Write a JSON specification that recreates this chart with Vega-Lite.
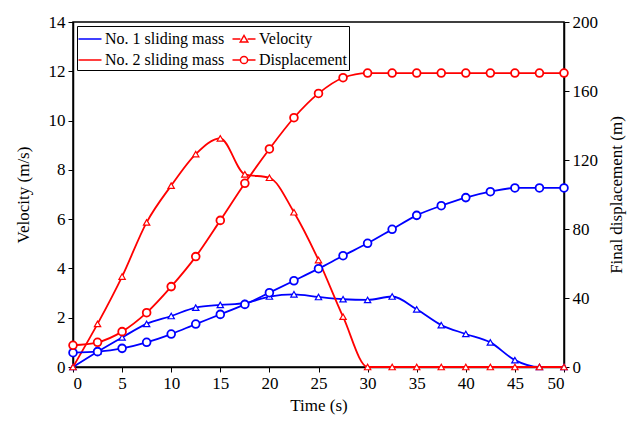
{
  "$schema": "https://vega.github.io/schema/vega-lite/v6.json",
  "width": 491,
  "height": 345,
  "autosize": {"type": "none"},
  "padding": {"left": 73, "top": 22, "right": 74, "bottom": 59},
  "background": "white",
  "config": {
    "font": "Liberation Serif",
    "view": {"stroke": "black", "strokeWidth": 1.5},
    "axis": {
      "grid": false,
      "domainColor": "black",
      "domainWidth": 1.5,
      "tickColor": "black",
      "tickSize": 5,
      "tickWidth": 1,
      "labelFont": "Liberation Serif",
      "labelFontSize": 17,
      "labelColor": "black",
      "titleFont": "Liberation Serif",
      "titleFontSize": 17,
      "titleFontWeight": "normal",
      "titleColor": "black",
      "labelPadding": 3
    }
  },
  "data": {
    "values": [
      {"t": 0, "mass": "No. 1 sliding mass", "velocity": 0, "displacement": 8.3},
      {"t": 2.5, "mass": "No. 1 sliding mass", "velocity": 0.62, "displacement": 8.9},
      {"t": 5, "mass": "No. 1 sliding mass", "velocity": 1.2, "displacement": 10.8},
      {"t": 7.5, "mass": "No. 1 sliding mass", "velocity": 1.75, "displacement": 14.3},
      {"t": 10, "mass": "No. 1 sliding mass", "velocity": 2.07, "displacement": 19.1},
      {"t": 12.5, "mass": "No. 1 sliding mass", "velocity": 2.41, "displacement": 24.9},
      {"t": 15, "mass": "No. 1 sliding mass", "velocity": 2.52, "displacement": 30.5},
      {"t": 17.5, "mass": "No. 1 sliding mass", "velocity": 2.59, "displacement": 36.3},
      {"t": 20, "mass": "No. 1 sliding mass", "velocity": 2.86, "displacement": 43.1},
      {"t": 22.5, "mass": "No. 1 sliding mass", "velocity": 2.95, "displacement": 50},
      {"t": 25, "mass": "No. 1 sliding mass", "velocity": 2.84, "displacement": 57},
      {"t": 27.5, "mass": "No. 1 sliding mass", "velocity": 2.75, "displacement": 64.5},
      {"t": 30, "mass": "No. 1 sliding mass", "velocity": 2.72, "displacement": 71.7},
      {"t": 32.5, "mass": "No. 1 sliding mass", "velocity": 2.86, "displacement": 79.8},
      {"t": 35, "mass": "No. 1 sliding mass", "velocity": 2.34, "displacement": 87.9},
      {"t": 37.5, "mass": "No. 1 sliding mass", "velocity": 1.7, "displacement": 93.5},
      {"t": 40, "mass": "No. 1 sliding mass", "velocity": 1.34, "displacement": 98.2},
      {"t": 42.5, "mass": "No. 1 sliding mass", "velocity": 1.0, "displacement": 101.6},
      {"t": 45, "mass": "No. 1 sliding mass", "velocity": 0.28, "displacement": 103.8},
      {"t": 47.5, "mass": "No. 1 sliding mass", "velocity": 0, "displacement": 103.8},
      {"t": 50, "mass": "No. 1 sliding mass", "velocity": 0, "displacement": 103.8},
      {"t": 0, "mass": "No. 2 sliding mass", "velocity": 0, "displacement": 12.6},
      {"t": 2.5, "mass": "No. 2 sliding mass", "velocity": 1.75, "displacement": 14.3},
      {"t": 5, "mass": "No. 2 sliding mass", "velocity": 3.67, "displacement": 20.5},
      {"t": 7.5, "mass": "No. 2 sliding mass", "velocity": 5.87, "displacement": 31.5},
      {"t": 10, "mass": "No. 2 sliding mass", "velocity": 7.36, "displacement": 46.6},
      {"t": 12.5, "mass": "No. 2 sliding mass", "velocity": 8.64, "displacement": 64},
      {"t": 15, "mass": "No. 2 sliding mass", "velocity": 9.28, "displacement": 85},
      {"t": 17.5, "mass": "No. 2 sliding mass", "velocity": 7.82, "displacement": 106.5},
      {"t": 20, "mass": "No. 2 sliding mass", "velocity": 7.68, "displacement": 126.4},
      {"t": 22.5, "mass": "No. 2 sliding mass", "velocity": 6.28, "displacement": 144.5},
      {"t": 25, "mass": "No. 2 sliding mass", "velocity": 4.34, "displacement": 158.6},
      {"t": 27.5, "mass": "No. 2 sliding mass", "velocity": 2.04, "displacement": 167.7},
      {"t": 30, "mass": "No. 2 sliding mass", "velocity": 0, "displacement": 170.4},
      {"t": 32.5, "mass": "No. 2 sliding mass", "velocity": 0, "displacement": 170.4},
      {"t": 35, "mass": "No. 2 sliding mass", "velocity": 0, "displacement": 170.4},
      {"t": 37.5, "mass": "No. 2 sliding mass", "velocity": 0, "displacement": 170.4},
      {"t": 40, "mass": "No. 2 sliding mass", "velocity": 0, "displacement": 170.4},
      {"t": 42.5, "mass": "No. 2 sliding mass", "velocity": 0, "displacement": 170.4},
      {"t": 45, "mass": "No. 2 sliding mass", "velocity": 0, "displacement": 170.4},
      {"t": 47.5, "mass": "No. 2 sliding mass", "velocity": 0, "displacement": 170.4},
      {"t": 50, "mass": "No. 2 sliding mass", "velocity": 0, "displacement": 170.4}
    ]
  },
  "encoding": {
    "x": {
      "field": "t", "type": "quantitative",
      "scale": {"domain": [0, 50], "nice": false},
      "axis": {"title": "Time (s)", "values": [0, 5, 10, 15, 20, 25, 30, 35, 40, 45, 50], "titlePadding": 6}
    },
    "color": {
      "field": "mass", "type": "nominal",
      "scale": {
        "domain": ["No. 1 sliding mass", "No. 2 sliding mass", "Velocity", "Displacement"],
        "range": ["#0000FF", "#FF0000", "#FF0000", "#FF0000"]
      },
      "legend": {
        "title": null,
        "orient": "top-left",
        "offset": 4,
        "columns": 2,
        "columnPadding": 4,
        "rowPadding": 2,
        "padding": 2,
        "strokeColor": "black",
        "fillColor": "white",
        "symbolSize": 400,
        "symbolStrokeWidth": 1.5,
        "labelFont": "Liberation Serif",
        "labelFontSize": 16,
        "labelColor": "black",
        "labelOffset": 4,
        "labelLimit": 300,
        "encode": {
          "symbols": {
            "update": {
              "shape": {"signal": "datum.value === 'Velocity' ? 'M-1.15,0H-0.36M0.36,0H1.15M-0.38,0.3L0,-0.36L0.38,0.3Z' : datum.value === 'Displacement' ? 'M-1.15,0H-0.36M0.36,0H1.15M-0.36,0A0.36,0.36,0,1,0,0.36,0A0.36,0.36,0,1,0,-0.36,0Z' : 'M-1.15,0H1.15'"},
              "fill": {"value": "white"},
              "fillOpacity": {"value": 1},
              "stroke": {"signal": "datum.value === 'No. 1 sliding mass' ? '#0000FF' : '#FF0000'"},
              "strokeWidth": {"value": 1.5},
              "opacity": {"value": 1}
            }
          }
        }
      }
    }
  },
  "layer": [
    {
      "layer": [
        {
          "mark": {"type": "line", "interpolate": "monotone", "strokeWidth": 1.8},
          "encoding": {
            "y": {"field": "velocity", "type": "quantitative"}
          }
        },
        {
          "mark": {"type": "point", "shape": "triangle-up", "size": 40, "filled": false, "fill": "white", "fillOpacity": 1, "strokeWidth": 1.2, "opacity": 1},
          "encoding": {
            "y": {
              "field": "velocity", "type": "quantitative",
              "scale": {"domain": [0, 14], "nice": false},
              "axis": {"title": "Velocity (m/s)", "values": [0, 2, 4, 6, 8, 10, 12, 14], "titlePadding": 16}
            }
          }
        }
      ]
    },
    {
      "layer": [
        {
          "mark": {"type": "line", "interpolate": "monotone", "strokeWidth": 1.8},
          "encoding": {
            "y": {"field": "displacement", "type": "quantitative"}
          }
        },
        {
          "mark": {"type": "point", "shape": "circle", "size": 60, "filled": false, "fill": "white", "fillOpacity": 1, "strokeWidth": 1.8, "opacity": 1},
          "encoding": {
            "y": {
              "field": "displacement", "type": "quantitative",
              "scale": {"domain": [0, 200], "nice": false},
              "axis": {"title": "Final displacement (m)", "orient": "right", "values": [0, 40, 80, 120, 160, 200], "titleAngle": 270, "titlePadding": 28}
            }
          }
        }
      ]
    }
  ],
  "resolve": {"scale": {"y": "independent"}}
}
